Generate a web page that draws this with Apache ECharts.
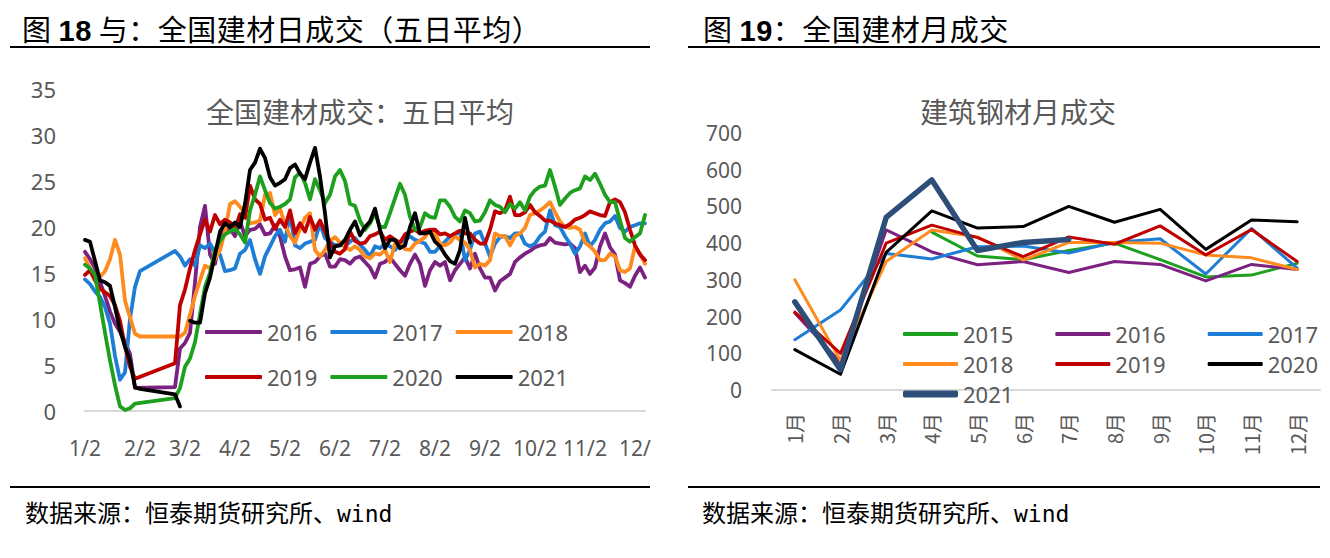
<!DOCTYPE html>
<html><head><meta charset="utf-8">
<script src="https://cdn.jsdelivr.net/npm/echarts@6/dist/echarts.min.js"></script>
<style>
html,body{margin:0;padding:0;background:#fff;}
#wrap{position:relative;width:1330px;height:558px;overflow:hidden;font-family:'Noto Sans CJK SC',sans-serif;}
#left{position:absolute;left:0;top:0;width:665px;height:558px;}
#right{position:absolute;left:665px;top:0;width:665px;height:558px;}
.hd{position:absolute;font-size:29px;letter-spacing:0.5px;color:#000;white-space:nowrap;line-height:34px;}
.hd b{font-family:'Liberation Sans',sans-serif;font-weight:bold;}
.rule{position:absolute;height:2px;background:#000;}
.ft{position:absolute;font-size:24px;color:#000;white-space:nowrap;line-height:28px;}
.ft span{font-family:'DejaVu Sans Mono',monospace;font-size:23px;}
</style></head>
<body><div id="wrap">
<div id="left"></div><div id="right"></div>
<div class="hd" style="left:22px;top:11px">图 <b>18</b> 与：全国建材日成交（五日平均）</div>
<div class="hd" style="left:703px;top:11px">图 <b>19</b>：全国建材月成交</div>
<div class="rule" style="left:10px;width:640px;top:46px"></div>
<div class="rule" style="left:688px;width:632px;top:46px"></div>
<div class="rule" style="left:10px;width:640px;top:486px"></div>
<div class="rule" style="left:688px;width:632px;top:486px"></div>
<div class="ft" style="left:25px;top:498px">数据来源：恒泰期货研究所、<span>wind</span></div>
<div class="ft" style="left:702px;top:498px">数据来源：恒泰期货研究所、<span>wind</span></div>
</div>
<script>
// ---------- left chart: daily, 5-day average ----------
const tickIdx = [0, 11, 20, 30, 40, 50, 60, 70, 80, 90, 100, 110];
const tickLabels = ['1/2', '2/2', '3/2', '4/2', '5/2', '6/2', '7/2', '8/2', '9/2', '10/2', '11/2', '12/'];

const s2016 = [17.3,16.5,15.5,14.0,12.5,10.8,9.5,8.6,7.5,6.2,2.5,
 null,null,null,null,null,null,null,
 2.6,6.8,7.4,8.5,14.0,20.0,22.3,17.0,16.0,18.8,19.8,19.8,
 19.0,20.6,19.0,19.7,19.8,20.3,19.2,19.3,20.2,19.0,
 16.8,15.3,15.4,15.6,13.5,16.0,16.2,16.8,17.1,15.7,
 15.7,16.5,16.4,16.0,16.6,16.8,16.2,
 15.6,14.5,16.0,16.2,16.7,16.0,15.3,14.7,16.0,17.0,
 16.0,13.6,15.3,16.2,15.8,16.2,14.2,15.3,16.0,16.7,
 15.5,17.1,15.5,14.5,14.5,13.1,14.1,14.5,14.9,16.2,
 16.7,17.1,17.4,17.8,18.0,18.1,18.8,18.3,18.2,18.1,
 18.2,17.7,15.1,15.8,14.9,15.6,17.9,19.3,17.8,17.0,
 14.2,13.9,13.5,14.7,15.6,14.5];

const s2017 = [14.3,13.8,13.0,12.4,11.3,9.5,6.0,3.4,4.2,10.0,13.5,15.2,
 null,null,null,null,null,null,
 17.4,16.8,15.8,16.5,15.8,18.0,17.7,18.2,17.2,17.0,15.2,15.3,
 15.5,17.1,17.5,18.6,16.5,14.9,16.8,17.9,19.0,19.7,
 18.4,21.5,18.0,17.7,18.2,18.4,18.6,20.4,18.8,18.4,
 18.0,18.1,17.9,18.4,18.8,18.1,17.5,
 16.8,17.9,17.7,18.2,17.9,17.5,18.1,18.6,19.0,18.6,
 18.4,18.2,17.3,17.3,17.9,18.4,19.0,19.2,19.5,16.4,
 17.5,19.3,19.5,18.2,16.8,18.2,18.9,19.0,18.8,19.3,
 19.3,18.2,17.9,18.2,19.0,19.5,21.8,20.2,20.0,19.0,
 18.2,17.1,17.9,19.3,17.9,18.6,19.7,20.4,20.6,21.2,
 19.9,19.5,20.0,20.2,20.4,20.4];

const s2018 = [16.6,15.5,14.6,14.6,15.2,16.5,18.6,17.0,12.0,10.2,8.4,8.1,
 null,null,null,null,null,null,null,
 8.1,8.5,10.5,12.5,14.2,15.8,15.5,16.5,17.5,19.5,22.5,
 22.8,22.2,21.5,20.4,20.5,20.7,23.5,23.7,21.3,22.0,
 20.3,19.0,18.3,19.8,21.0,21.5,17.5,16.8,17.5,18.5,
 18.9,18.3,17.9,17.5,17.9,17.5,16.8,
 16.6,17.1,17.0,17.5,16.2,18.2,18.3,17.6,17.5,18.2,
 18.5,18.9,19.7,19.3,18.2,18.0,18.3,19.0,18.6,18.3,
 17.5,15.6,16.0,15.8,16.4,19.3,19.0,19.0,18.0,19.0,
 19.3,19.9,21.3,21.5,21.8,22.2,22.7,21.6,20.6,20.0,
 19.9,20.0,19.7,18.3,17.9,17.3,16.4,16.4,17.1,16.8,
 15.3,15.1,15.5,17.9,17.1,16.0];

const s2019 = [14.8,15.3,14.2,13.3,12.9,12.5,11.5,9.8,7.0,4.8,3.5,
 null,null,null,null,null,null,null,
 5.2,11.5,13.2,15.5,17.5,19.2,20.8,19.5,21.3,20.3,20.8,20.5,
 19.7,21.4,21.0,24.5,23.0,22.5,20.8,21.0,19.8,20.8,
 20.0,21.8,19.3,20.4,19.5,21.1,19.7,20.7,19.5,18.3,
 17.3,17.1,17.6,19.5,18.5,18.2,18.3,
 19.0,19.2,19.5,18.6,19.0,18.6,18.3,19.2,19.5,19.7,
 19.3,19.6,19.7,19.7,19.2,19.3,19.0,19.3,19.6,19.3,
 19.3,18.6,18.2,18.2,19.7,21.7,21.5,21.8,23.3,21.3,
 21.3,21.6,22.4,21.6,21.2,20.7,20.7,20.4,20.2,20.0,
 20.3,20.8,21.0,21.3,21.7,21.5,21.3,21.2,22.7,23.0,
 22.7,21.6,19.7,18.0,17.0,16.4];

const s2020 = [15.9,15.5,14.8,11.7,8.5,5.5,2.8,0.5,0.1,0.3,0.8,
 null,null,null,null,null,null,null,
 1.4,2.5,4.8,5.7,7.5,10.5,13.5,15.0,17.5,18.5,19.2,19.5,
 19.8,19.2,18.3,21.8,23.5,25.5,24.0,22.6,22.0,22.2,
 22.5,23.0,25.4,25.9,24.8,23.0,25.2,24.0,22.6,23.5,
 25.5,26.2,25.0,22.5,22.3,20.7,19.7,
 20.4,21.5,20.0,20.0,21.5,23.1,24.7,23.5,21.1,19.7,
 20.0,21.5,21.1,21.0,22.9,22.9,22.2,21.1,20.6,21.8,
 21.5,20.6,20.7,21.6,22.9,22.4,22.2,21.6,22.5,22.0,
 22.7,21.8,23.3,24.0,24.4,24.5,26.2,24.4,22.4,23.1,
 23.7,24.0,24.2,25.5,25.1,25.8,24.7,23.5,22.7,22.7,
 20.7,18.8,18.4,18.9,19.3,21.3];

const s2021a = [18.6,18.4,16.3,14.2,14.0,13.6,11.3,8.8,7.0,5.5,2.6,2.4,
 null,null,null,null,null,null,
 1.8,0.5];

const s2021b = [null,null,null,null,null,null,null,null,null,null,
 null,null,null,null,null,null,null,null,null,null,null,
 9.8,9.6,9.6,12.8,14.5,17.0,19.5,20.4,20.0,
 20.5,20.0,22.5,26.2,27.0,28.5,27.5,25.4,24.5,24.8,
 25.2,26.4,26.8,25.8,25.2,27.0,28.6,25.5,21.5,16.7,
 17.9,18.0,18.6,19.7,20.6,19.1,20.0,20.6,22.0,19.7,
 17.7,18.6,18.6,17.7,18.0,20.0,21.5,19.3,19.3,19.5,
 18.4,17.9,17.0,16.3,16.0,17.5,21.0,18.3];

// ---------- right chart: monthly ----------
const months = ['1月','2月','3月','4月','5月','6月','7月','8月','9月','10月','11月','12月'];
const m2015 = [null, null, null, 430, 365, 355, 380, 400, 355, 308, 313, 345];
const m2016 = [210, 75, 436, 376, 341, 350, 320, 350, 342, 297, 342, 328];
const m2017 = [137, 218, 372, 357, 390, 392, 373, 402, 412, 316, 440, 332];
const m2018 = [300, 80, 350, 436, 417, 354, 402, 402, 400, 368, 360, 328];
const m2019 = [212, 100, 400, 449, 415, 363, 417, 397, 447, 368, 437, 350];
const m2020 = [110, 43, 375, 488, 441, 445, 500, 457, 492, 383, 463, 458];
const m2021 = [240, 55, 470, 572, 380, 402, 410];

const C = {p:'#7B2180', b:'#1E7DD4', o:'#FF8B1E', r:'#C00000', g:'#1DA01D', k:'#000000', n:'#2E4E7A'};
const GRAY = '#595959';
const NUMF = 'Noto Sans';

const dayCats = s2016.map((_, i) => String(i));

function dline(name, data, color, w) {
  return {name, type:'line', data, symbol:'none', connectNulls:true,
    lineStyle:{color, width:w, join:'round', cap:'round'}, itemStyle:{color}};
}

const leftChart = echarts.init(document.getElementById('left'), null, {renderer:'svg'});
function leftLegend(top, data) {
  return {top, left:205, padding:0, orient:'horizontal', data, icon:'roundRect',
    itemWidth:57, itemHeight:4, itemGap:13,
    textStyle:{fontSize:22, color:GRAY, fontFamily:NUMF, width:50}};
}
leftChart.setOption({
  animation:false,
  title:{text:'全国建材成交：五日平均', left:360, top:97, padding:0, textAlign:'center',
    textStyle:{fontSize:28, fontWeight:'normal', color:GRAY, fontFamily:'Noto Sans CJK SC'}},
  legend:[leftLegend(321, ['2016','2017','2018']), leftLegend(366, ['2019','2020','2021'])],
  grid:{left:85, right:20, top:89, bottom:147},
  xAxis:{type:'category', data:dayCats, boundaryGap:false,
    axisLine:{lineStyle:{color:'#D9D9D9', width:2}}, axisTick:{show:false},
    axisLabel:{interval:(i) => tickIdx.includes(i),
      formatter:(v, i) => tickLabels[tickIdx.indexOf(i)],
      fontSize:21, color:GRAY, fontFamily:NUMF, margin:26}},
  yAxis:{type:'value', min:0, max:35, interval:5,
    axisLine:{show:false}, axisTick:{show:false}, splitLine:{show:false},
    axisLabel:{fontSize:22, color:GRAY, fontFamily:NUMF, margin:29}},
  series:[
    dline('2016', s2016, C.p, 3.8),
    dline('2017', s2017, C.b, 3.8),
    dline('2018', s2018, C.o, 3.8),
    dline('2019', s2019, C.r, 3.8),
    dline('2020', s2020, C.g, 3.8),
    dline('2021', s2021a, C.k, 3.8),
    dline('2021', s2021b, C.k, 3.8)
  ]
});

const rightChart = echarts.init(document.getElementById('right'), null, {renderer:'svg'});
function rightLegend(top, data, h) {
  return {top, left:238, padding:0, orient:'horizontal', data, icon:'roundRect',
    itemWidth:55, itemHeight:h, itemGap:42,
    textStyle:{fontSize:22, color:GRAY, fontFamily:NUMF, width:50}};
}
rightChart.setOption({
  animation:false,
  title:{text:'建筑钢材月成交', left:353, top:97, padding:0, textAlign:'center',
    textStyle:{fontSize:28, fontWeight:'normal', color:GRAY, fontFamily:'Noto Sans CJK SC'}},
  legend:[rightLegend(323, ['2015','2016','2017'], 4),
          rightLegend(353, ['2018','2019','2020'], 4),
          rightLegend(383, ['2021'], 7)],
  grid:{left:107, right:10, top:133, bottom:168},
  xAxis:{type:'category', data:months, boundaryGap:true,
    axisLine:{lineStyle:{color:'#D9D9D9', width:2}}, axisTick:{show:false},
    axisLabel:{rotate:90, fontSize:20, color:GRAY, fontFamily:'Noto Sans CJK SC', margin:23}},
  yAxis:{type:'value', min:0, max:700, interval:100,
    axisLine:{show:false}, axisTick:{show:false}, splitLine:{show:false},
    axisLabel:{fontSize:21, color:GRAY, fontFamily:NUMF, margin:30}},
  series:[
    dline('2015', m2015, C.g, 3),
    dline('2016', m2016, C.p, 3),
    dline('2017', m2017, C.b, 3),
    dline('2018', m2018, C.o, 3),
    dline('2019', m2019, C.r, 3),
    dline('2020', m2020, C.k, 3),
    dline('2021', m2021, C.n, 5.5)
  ]
});
</script>
</body></html>
